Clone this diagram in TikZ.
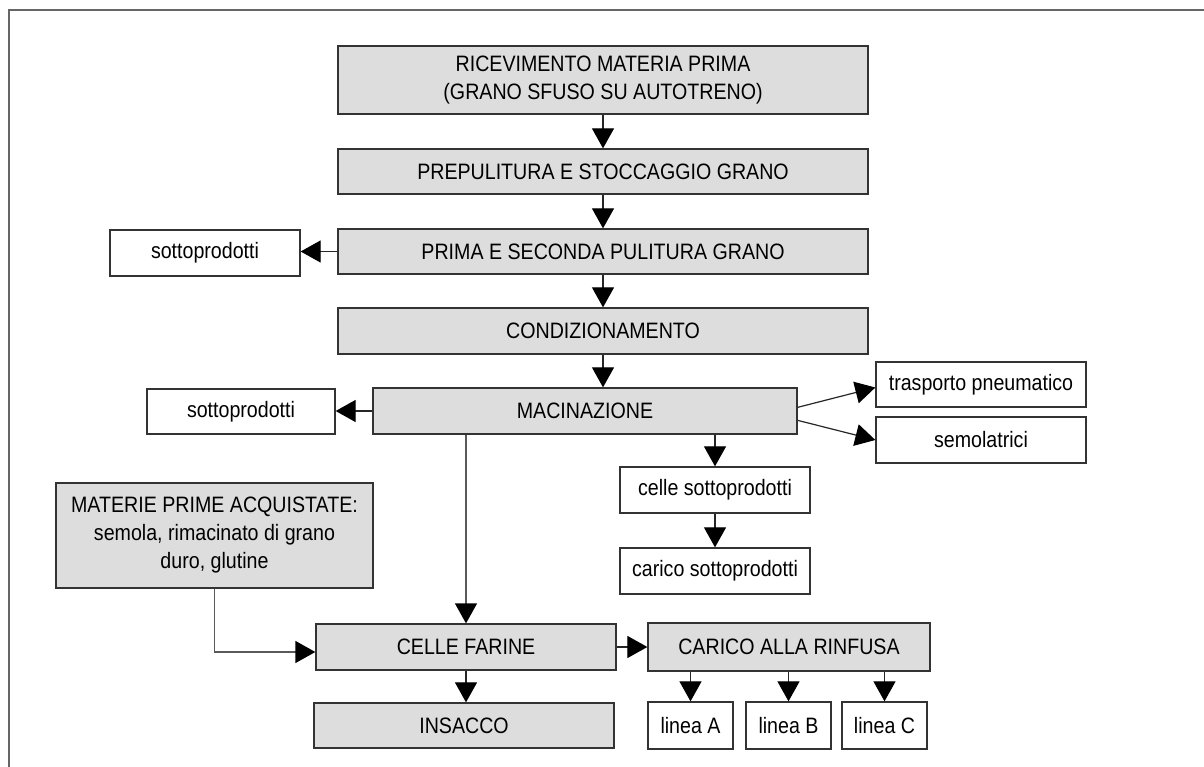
\documentclass[tikz,border=0pt]{standalone}
\usepackage{fontspec}
\setmainfont[FakeStretch=0.88]{Liberation Sans}
\usetikzlibrary{arrows.meta,calc}
\definecolor{boxgray}{HTML}{DDDDDD}
\begin{document}
\begin{tikzpicture}[x=1pt,y=-1pt,
  gbox/.style={draw=black!80, line width=1.3pt, fill=boxgray, inner sep=0pt, align=center,
               font=\fontsize{22.3}{28}\selectfont},
  wbox/.style={gbox, fill=white},
  conn/.style={draw=black!85, line width=1.2pt, -{Triangle[width=22pt,length=20pt,color=black]}},
  greyconn/.style={conn, draw=black!65, line width=1.3pt},
  outerframe/.style={draw=black!60, line width=1.5pt}]
\fill[white] (0,0) rectangle (1204,767);
\useasboundingbox (0,0) rectangle (1204,767);
\draw[outerframe] (9,767) -- (9,10) -- (1204,10);

% main column
\node[gbox, minimum width=530pt, minimum height=68pt] (ricev) at (603,80) {RICEVIMENTO MATERIA PRIMA\\(GRANO SFUSO SU AUTOTRENO)};
\node[gbox, minimum width=530pt, minimum height=45pt] (prepul) at (603,171.5) {PREPULITURA E STOCCAGGIO GRANO};
\node[gbox, minimum width=530pt, minimum height=45pt] (prima) at (603,251.5) {PRIMA E SECONDA PULITURA GRANO};
\node[gbox, minimum width=530pt, minimum height=46pt] (condiz) at (603,331) {CONDIZIONAMENTO};
\node[gbox, minimum width=424pt, minimum height=46pt] (macin) at (585,411) {MACINAZIONE};

% side boxes
\node[wbox, minimum width=190pt, minimum height=46pt] (sotto1) at (205,253) {sottoprodotti};
\node[wbox, minimum width=188pt, minimum height=45pt] (sotto2) at (241,411.5) {sottoprodotti};
\node[wbox, minimum width=210pt, minimum height=45pt] (trasp) at (981,384.5) {trasporto pneumatico};
\node[wbox, minimum width=210pt, minimum height=46pt] (semol) at (981,440) {semolatrici};
\node[wbox, minimum width=190pt, minimum height=46pt] (cellesotto) at (715,490) {celle sottoprodotti};
\node[wbox, minimum width=190pt, minimum height=46pt] (caricosotto) at (715,571) {carico sottoprodotti};

% lower part
\node[gbox, minimum width=317pt, minimum height=105pt] (materie) at (214.5,535.5) {MATERIE PRIME ACQUISTATE:\\semola, rimacinato di grano\\duro, glutine};
\node[gbox, minimum width=300pt, minimum height=46pt] (cellefar) at (466,647) {CELLE FARINE};
\node[gbox, minimum width=300pt, minimum height=45pt] (insacco) at (464,725.5) {INSACCO};
\node[gbox, minimum width=282pt, minimum height=48pt] (carico) at (789,647) {CARICO ALLA RINFUSA};
\node[wbox, minimum width=85pt, minimum height=47pt] (lineaA) at (690.5,725.5) {linea A};
\node[wbox, minimum width=85pt, minimum height=47pt] (lineaB) at (788.5,725.5) {linea B};
\node[wbox, minimum width=85pt, minimum height=47pt] (lineaC) at (884.5,725.5) {linea C};

% connectors
\draw[conn] (ricev.south) -- (prepul.north);
\draw[conn] (prepul.south) -- (prima.north);
\draw[conn] (prima.south) -- (condiz.north);
\draw[conn] (condiz.south) -- (condiz.south |- macin.north);
\draw[conn] (prima.west) -- (prima.west -| sotto1.east);
\draw[conn] (macin.west) -- (macin.west -| sotto2.east);
\draw[conn] ($(macin.north east)+(0,20)$) -- ($(trasp.west)+(0,3)$);
\draw[conn] ($(macin.north east)+(0,33)$) -- (semol.west);
\draw[conn] (cellesotto.north |- macin.south) -- (cellesotto.north);
\draw[conn] (cellesotto.south) -- (caricosotto.north);
\draw[greyconn] (cellefar.north |- macin.south) -- (cellefar.north);
\draw[greyconn] (materie.south) |- ($(cellefar.west)+(0,5)$);
\draw[conn] (cellefar.east) -- (carico.west);
\draw[conn] (cellefar.south) -- (cellefar.south |- insacco.north);
\draw[conn] (carico.south -| lineaA.north) -- (lineaA.north);
\draw[conn] (carico.south -| lineaB.north) -- (lineaB.north);
\draw[conn] (carico.south -| lineaC.north) -- (lineaC.north);
\end{tikzpicture}
\end{document}
